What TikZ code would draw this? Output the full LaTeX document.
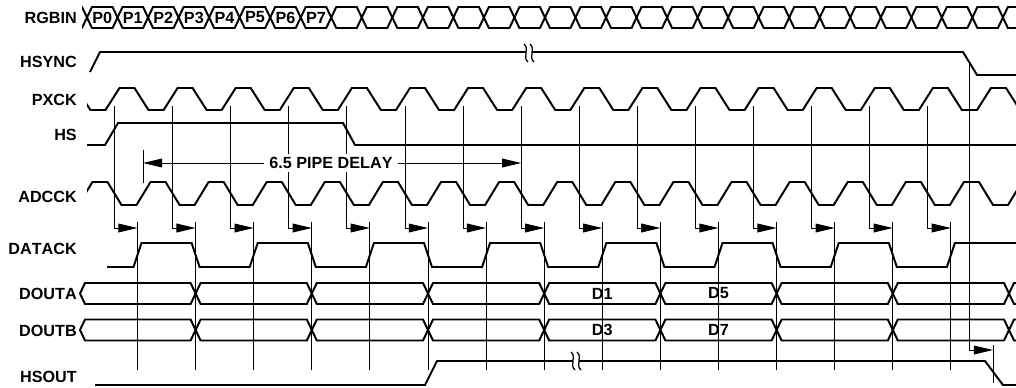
\documentclass[tikz,border=0pt]{standalone}
\usepackage{fontspec}
\setmainfont{Liberation Sans}[Kerning=Off]
\usetikzlibrary{arrows.meta,calc}
\tikzset{
    timing diagram/.style = {x=0.25mm, y=-0.25mm},
    wave/.style           = {line width=1.4pt, line join=miter},
    guide/.style          = {line width=0.7pt},
    tip/.style            = {-{Triangle[length=4.8mm, width=2.2mm]}},
    sig/.style            = {font=\bfseries\fontsize{11.5}{13}\selectfont,
                             anchor=east, inner sep=0pt},
    cell/.style           = {font=\bfseries\fontsize{11.5}{13}\selectfont,
                             inner sep=0pt},
    gap mark/.pic         = {
        \fill[white] (-3,-6) rectangle (3,6);
        \foreach \dx in {-3,3}
            \draw[line width=0.9pt] (\dx-2,-9) .. controls (\dx+4,-4)
                and (\dx-4,4) .. (\dx+2,9);
    }
}

\begin{document}
\begin{tikzpicture}[timing diagram]
\useasboundingbox (0,0) rectangle (1016,387);

% ================= Signal names =================
\node[sig] (rgbin)  at (77, 18)  {RGBIN};
\node[sig] (hsync)  at (77, 62)  {HSYNC};
\node[sig] (pxck)   at (77, 100) {PXCK};
\node[sig] (hs)     at (77, 135) {HS};
\node[sig] (adcck)  at (77, 197) {ADCCK};
\node[sig] (datack) at (77, 249) {DATACK};
\node[sig] (douta)  at (77, 294) {DOUTA};
\node[sig] (doutb)  at (77, 331) {DOUTB};
\node[sig] (hsout)  at (77, 377) {HSOUT};

% ================= RGBIN (pixel stream) =================
\begin{scope}
    \clip (82,0) rectangle (1016,40);
    \foreach \i in {-1,...,30}
        \draw[wave] ({87+\i*30.53},17.5) -- ++(5,-10.5)
            -- ({87+(\i+1)*30.53-5},7) -- ++(5,10.5) -- ++(-5,10.5)
            -- ({87+\i*30.53+5},28) -- cycle;
\end{scope}
\foreach \p in {0,...,7}
    \node[cell] (pix\p) at ({87+(\p+0.5)*30.53},17.5) {P\p};

% ================= HSYNC =================
\draw[wave] (90,72) -- (100,52) -- (963,52) -- (977,75) -- (1016,75);
\pic at (529,53) {gap mark};

% ================= PXCK =================
\begin{scope}
    \clip (87,80) rectangle (1016,116);
    \draw[wave] (40,110) \foreach \k in {-1,...,15} {
        -- ({105.5+\k*58.1},110) -- ++(14,-22) -- ++(15,0) -- ++(14,22)
    } -- (1040,110);
\end{scope}

% ================= HS =================
\draw[wave] (87,145) -- (105,145) -- (118,123) -- (343,123) -- (355,145)
    -- (1016,145);

% ================= ADCCK =================
\begin{scope}
    \clip (87,175) rectangle (1016,212);
    \draw[wave] (40,182) \foreach \k in {-1,...,16} {
        -- ({107.5+\k*58.1},182) -- ++(14,23) -- ++(15,0) -- ++(14,-23)
    };
\end{scope}

% ================= Clock edges -> DATACK edges =================
\foreach \k in {0,...,14} {
    \coordinate (ck\k) at ({114.5+\k*58.1},106);
    \coordinate (at\k) at ({137.5+\k*58.1},228);
    \coordinate (tt\k) at ({137.5+\k*58.1},222);
    \coordinate (tb\k) at ({137.5+\k*58.1},370);
    \draw[guide, tip] (ck\k) |- (at\k);
    \draw[guide] (tt\k) -- (tb\k);
}

% ================= Pipe delay =================
\coordinate (dlt) at (143,150);
\coordinate (dlb) at (143,183);
\coordinate (dll) at (143,163);
\coordinate (dlr) at (ck7 |- dll);
\draw[guide] (dlt) -- (dlb);
\node[cell, fill=white, inner xsep=4pt, inner ysep=2pt] (delay) at (331,163)
    {6.5 PIPE DELAY};
\draw[guide, tip] (delay.west) -- (dll);
\draw[guide, tip] (delay.east) -- (dlr);

% ================= DATACK =================
\draw[wave] (107,267) \foreach \j in {0,...,6} {
    -- ({133.5+2*\j*58.1},267) -- ++(8,-24)
    -- ({133.5+(2*\j+1)*58.1},243) -- ++(8,24)
} -- ({133.5+14*58.1},267) -- ++(8,-24) -- (1016,243);

% ================= DOUTA / DOUTB =================
\begin{scope}
    \clip (0,270) rectangle (1016,350);
    \foreach \yc in {293.5,330} {
        \draw[wave] (80,\yc) -- ++(5,-10.5) -- (190.6,\yc-10.5) -- ++(5,10.5)
            -- ++(-5,10.5) -- (85,\yc+10.5) -- cycle;
        \foreach \m in {1,...,8}
            \draw[wave] ({79.4+116.2*\m},\yc) -- ++(5,-10.5)
                -- ({195.6+116.2*\m-5},\yc-10.5) -- ++(5,10.5) -- ++(-5,10.5)
                -- ({79.4+116.2*\m+5},\yc+10.5) -- cycle;
    }
\end{scope}
\node[cell] (da1) at (602.3,293.5) {D1};
\node[cell] (da5) at (718.5,293.5) {D5};
\node[cell] (db3) at (602.3,330)   {D3};
\node[cell] (db7) at (718.5,330)   {D7};

% ================= HSOUT =================
\draw[wave] (95,385) -- (425,385) -- (437,361) -- (985,361) -- (1003,385)
    -- (1016,385);
\pic at (576,361) {gap mark};

% HSYNC edge -> HSOUT edge
\coordinate (hsfall) at (969,62);
\coordinate (hsarr)  at (993,350);
\coordinate (hstt)   at (993,345);
\coordinate (hstb)   at (993,383);
\draw[guide, tip] (hsfall) |- (hsarr);
\draw[guide] (hstt) -- (hstb);

\end{tikzpicture}
\end{document}
